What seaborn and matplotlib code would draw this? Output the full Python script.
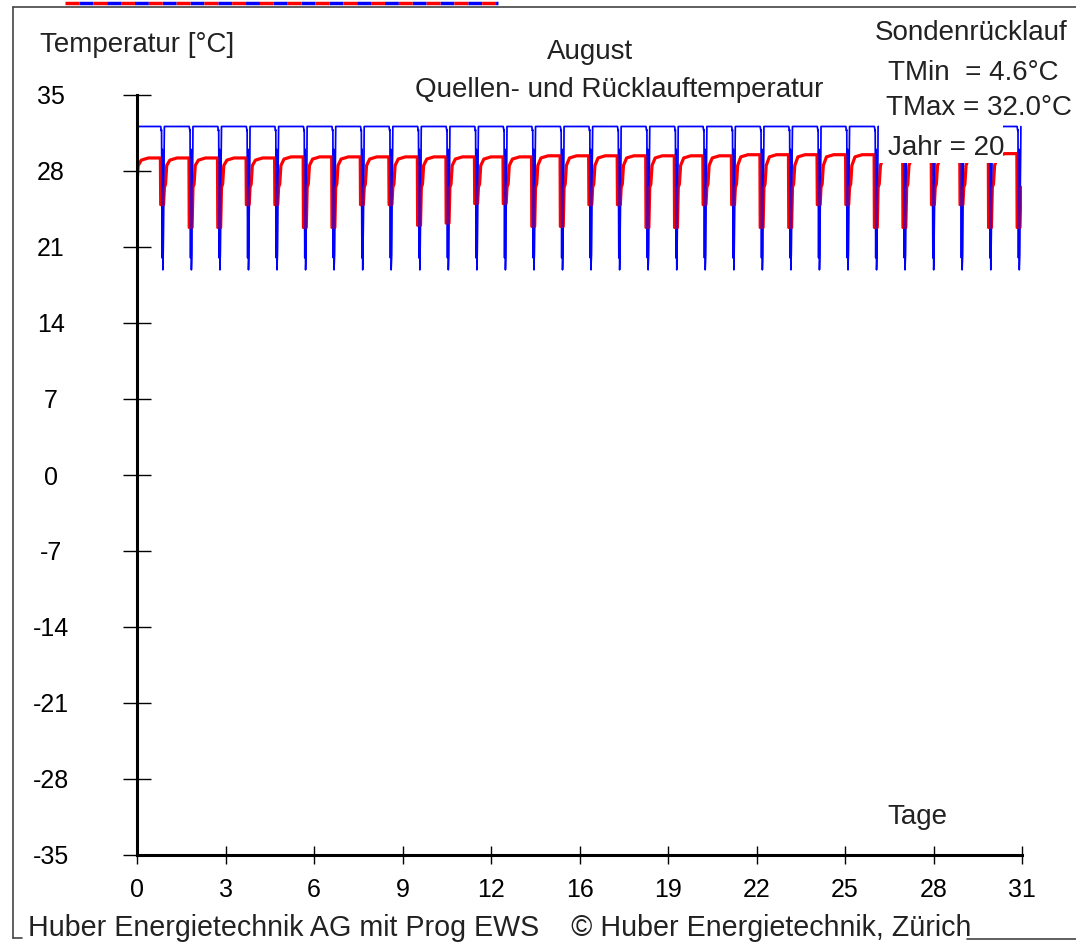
# August: Quellen- und Rücklauftemperatur (EWS)
import numpy as np
import pandas as pd
import matplotlib
matplotlib.use("Agg")
import matplotlib.pyplot as plt
from matplotlib.lines import Line2D
from matplotlib.patches import Rectangle
import seaborn as sns

sns.set_style("white")
plt.rcParams['font.family'] = ['Liberation Sans', 'DejaVu Sans']

# Daten
tage = list(range(31))
rot_oben = [29.2, 29.2, 29.2, 29.2, 29.2, 29.3, 29.3, 29.3, 29.3, 29.3, 29.3,
            29.3, 29.3, 29.3, 29.4, 29.4, 29.4, 29.4, 29.4, 29.4, 29.4, 29.5,
            29.5, 29.5, 29.5, 29.5, 29.5, 29.5, 29.5, 29.6, 29.6]
rot_min = [24.9, 22.8, 22.8, 24.9, 24.9, 22.8, 22.8, 24.9, 24.9, 23.0, 23.2,
           25.0, 25.0, 22.9, 22.9, 24.9, 24.9, 22.8, 22.8, 24.9, 24.9, 22.8,
           22.8, 24.9, 24.9, 22.8, 22.8, 24.9, 24.9, 22.8, 22.8]
blau_oben = [32.1] * 31
blau_min = [18.9] * 31
rot_start, blau_start = 24.7, 20.7

# Tagesverlauf (Anteil des Tages)
rot_anteil = [0.00, 0.04, 0.15, 0.40, 0.82, 0.83, 0.93, 0.96]
blau_anteil = [0.02, 0.83, 0.85, 0.86, 0.875, 0.89, 0.905, 0.92, 0.96]

x_ticks_lbl = ['0', '3', '6', '9', '12', '16', '19', '22', '25', '28', '31']
y_ticks = [-35, -28, -21, -14, -7, 0, 7, 14, 21, 28, 35]

# Datenreihen zusammenbauen
rot_x, rot_y = [0.0], [rot_start]
blau_x, blau_y = [0.0], [blau_start]
for d in tage:
    werte_r = [26.8, 28.5, rot_oben[d] - 0.2, rot_oben[d], rot_oben[d],
               rot_min[d], rot_min[d], 26.5]
    for a, v in zip(rot_anteil, werte_r):
        rot_x.append(d + a)
        rot_y.append(v)
    werte_b = [blau_oben[d], blau_oben[d], blau_oben[d] - 0.4, blau_oben[d] - 0.3,
               20.0, 30.0, blau_min[d], 20.3, blau_oben[d]]
    for a, v in zip(blau_anteil, werte_b):
        blau_x.append(d + a)
        blau_y.append(v)

df_rot = pd.DataFrame({'tag': rot_x, 'temp': rot_y})
df_blau = pd.DataFrame({'tag': blau_x, 'temp': blau_y})

W, H = 1076, 943
fig = plt.figure(figsize=(W / 100, H / 100), dpi=100)
ax = fig.add_axes([137 / W, 1 - 855 / H, 885 / W, 760 / H])

sns.lineplot(data=df_blau, x='tag', y='temp', color='#0000ff', linewidth=1.1,
             sort=False, estimator=None, ax=ax)
sns.lineplot(data=df_rot, x='tag', y='temp', color='#ff0000', linewidth=2.3,
             sort=False, estimator=None, ax=ax)
sns.lineplot(data=df_blau, x='tag', y='temp', color='#0000ff', linewidth=1.1,
             sort=False, estimator=None, ax=ax, alpha=0.6)

ax.set_xlim(0, 31)
ax.set_ylim(-35, 35)
ax.set_xlabel('')
ax.set_ylabel('')
ax.set_xticks(np.linspace(0, 31, 11))
ax.set_xticklabels(x_ticks_lbl, fontsize=18)
ax.set_yticks(y_ticks)
ax.set_yticklabels([str(v) for v in y_ticks], fontsize=18)
for lbl in ax.get_yticklabels():
    lbl.set_horizontalalignment('center')

ax.tick_params(axis='y', direction='inout', length=20, width=1, pad=52,
               colors='black', left=True)
ax.tick_params(axis='x', direction='inout', length=13, width=1, pad=10,
               colors='black', bottom=True)
sns.despine(ax=ax)
for s in ['left', 'bottom']:
    ax.spines[s].set_linewidth(2.2)
    ax.spines[s].set_color('black')
ax.grid(False)

def fx(px):
    return px / W

def fy(py):
    return 1 - py / H

# Abdeckung hinter "Jahr"
fig.patches.append(Rectangle((fx(879), fy(163)), fx(1003) - fx(879), fy(120) - fy(163),
                             transform=fig.transFigure, facecolor='white',
                             edgecolor='none', zorder=5))

txt = dict(color='#222222', zorder=6)
fig.text(fx(40), fy(45), 'Temperatur [°C]', fontsize=20, va='center', ha='left', **txt)
fig.text(fx(590), fy(52), 'August', fontsize=20, va='center', ha='center', **txt)
fig.text(fx(619), fy(90), 'Quellen- und Rücklauftemperatur', fontsize=20,
         va='center', ha='center', **txt)
fig.text(fx(875), fy(33), 'Sondenrücklauf', fontsize=20, va='center', ha='left', **txt)
fig.text(fx(888), fy(73), 'TMin  = 4.6°C', fontsize=20, va='center', ha='left', **txt)
fig.text(fx(886), fy(108), 'TMax = 32.0°C', fontsize=20, va='center', ha='left', **txt)
fig.text(fx(888), fy(148), 'Jahr = 20', fontsize=20, va='center', ha='left', **txt)
fig.text(fx(887), fy(817), 'Tage', fontsize=20, va='center', ha='left', **txt)
fig.text(fx(28), fy(928), 'Huber Energietechnik AG mit Prog EWS    © Huber Energietechnik, Zürich',
         fontsize=20.6, va='center', ha='left', **txt)

# Rahmen
rahmen = dict(color='#444444', linewidth=1.2, transform=fig.transFigure)
fig.add_artist(Line2D([fx(13), fx(13)], [fy(7), fy(938)], **rahmen))
fig.add_artist(Line2D([fx(13), fx(1076)], [fy(7), fy(7)], **rahmen))
fig.add_artist(Line2D([fx(13), fx(22)], [fy(938), fy(938)], **rahmen))
fig.add_artist(Line2D([fx(967), fx(1076)], [fy(939), fy(939)], **rahmen))
fig.add_artist(Line2D([fx(65), fx(498)], [fy(3), fy(3)], color='#ff0000',
                      gapcolor='#0000ff', dashes=(4, 4), linewidth=2.5,
                      transform=fig.transFigure))

fig.savefig('out.png', dpi=100)
